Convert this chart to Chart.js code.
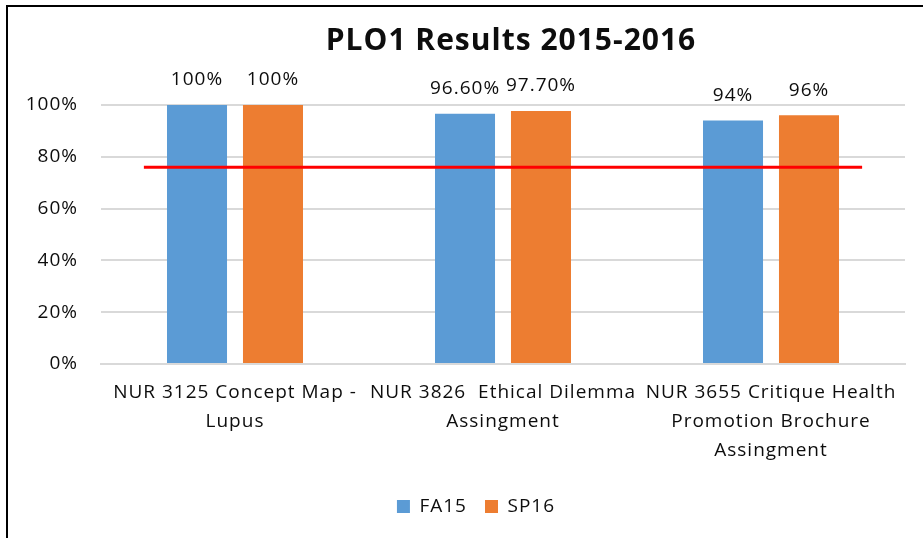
<!DOCTYPE html>
<html>
<head>
<meta charset="utf-8">
<script src="https://cdn.jsdelivr.net/npm/chart.js@4/dist/chart.umd.min.js"></script>
<style>
  html, body { margin: 0; padding: 0; background: #fff; width: 923px; height: 538px; overflow: hidden; }
  #frame { position: absolute; left: 6px; top: 5px; width: 2000px; height: 2000px;
           border-left: 2px solid #000; border-top: 2px solid #000; }
  #wrap { position: absolute; left: 0; top: 0; width: 923px; height: 538px; }
</style>
</head>
<body>
<div id="frame"></div>
<div id="wrap"><canvas id="c" width="923" height="538"></canvas></div>
<script>
// ---- data ----
const chartTitle = "PLO1 Results 2015-2016";
const categories = [
  ["NUR 3125 Concept Map -", "Lupus"],
  ["NUR 3826  Ethical Dilemma", "Assingment"],
  ["NUR 3655 Critique Health", "Promotion Brochure", "Assingment"]
];
const seriesNames = ["FA15", "SP16"];
const fa15 = [100, 96.6, 94];
const sp16 = [100, 97.7, 96];
const fa15Labels = ["100%", "96.60%", "94%"];
const sp16Labels = ["100%", "97.70%", "96%"];
const targetValue = 76;
const targetOverhang = 0.34; // in category widths beyond first/last category centre
const yTicks = [0, 20, 40, 60, 80, 100];

const FONT = "'Open Sans', 'Liberation Sans', sans-serif";
const TEXT = "#0d0d0d";
const SPACING = '1px';

const spacingPlugin = {
  id: 'spacing',
  beforeInit(chart) { chart.ctx.letterSpacing = SPACING; },
  beforeUpdate(chart) { chart.ctx.letterSpacing = SPACING; },
  beforeLayout(chart) { chart.ctx.letterSpacing = SPACING; },
  afterLayout(chart) {
    if (chart.legend) { chart.legend.left += 14; chart.legend.right += 14; }
  },
  beforeDraw(chart) { chart.ctx.letterSpacing = SPACING; }
};

const titlePlugin = {
  id: 'customTitle',
  afterDraw(chart) {
    const ctx = chart.ctx;
    ctx.save();
    ctx.font = "bold 30px " + FONT;
    ctx.fillStyle = TEXT;
    ctx.textAlign = "center";
    ctx.textBaseline = "middle";
    ctx.fillText(chartTitle, 511, 41);
    ctx.restore();
  }
};

const targetPlugin = {
  id: 'targetLine',
  afterDatasetsDraw(chart) {
    const x = chart.scales.x, y = chart.scales.y;
    const n = categories.length;
    const w = (x.getPixelForValue(n - 1) - x.getPixelForValue(0)) / (n - 1);
    const x0 = x.getPixelForValue(0) - targetOverhang * w;
    const x1 = x.getPixelForValue(n - 1) + targetOverhang * w;
    const py = y.getPixelForValue(targetValue);
    const ctx = chart.ctx;
    ctx.save();
    ctx.strokeStyle = '#ff0000';
    ctx.lineWidth = 3;
    ctx.beginPath();
    ctx.moveTo(x0, py);
    ctx.lineTo(x1, py);
    ctx.stroke();
    ctx.restore();
  }
};

const labelPlugin = {
  id: 'barLabels',
  afterDatasetsDraw(chart) {
    const ctx = chart.ctx;
    const labelSets = [fa15Labels, sp16Labels];
    ctx.save();
    ctx.font = "19px " + FONT;
    ctx.fillStyle = TEXT;
    ctx.textAlign = "center";
    ctx.textBaseline = "middle";
    [0, 1].forEach(di => {
      const meta = chart.getDatasetMeta(di);
      meta.data.forEach((bar, i) => {
        ctx.fillText(labelSets[di][i], bar.x, bar.y - 25);
      });
    });
    ctx.restore();
  }
};

new Chart(document.getElementById('c'), {
  type: 'bar',
  data: {
    labels: categories,
    datasets: [
      { label: seriesNames[0], data: fa15, backgroundColor: '#5b9bd5' },
      { label: seriesNames[1], data: sp16, backgroundColor: '#ed7d31' }
    ]
  },
  options: {
    responsive: false,
    animation: false,
    datasets: { bar: { categoryPercentage: 0.567, barPercentage: 0.79 } },
    layout: { padding: { left: 19, right: 18, top: 105, bottom: 12 } },
    plugins: {
      title: { display: false },
      tooltip: { enabled: false },
      legend: {
        position: 'bottom',
        labels: {
          boxWidth: 13, boxHeight: 13, padding: 18,
          color: TEXT, font: { family: FONT, size: 19 }
        }
      }
    },
    scales: {
      x: {
        type: 'category',
        offset: true,
        grid: { display: false, drawTicks: false },
        border: { display: true, color: '#d9d9d9', width: 2 },
        ticks: { color: TEXT, font: { family: FONT, size: 19, lineHeight: 1.53 },
                 maxRotation: 0, autoSkip: false, padding: 14 },
        afterFit(scale) { scale.height = 115; }
      },
      y: {
        min: 0, max: 100,
        afterBuildTicks(scale) { scale.ticks = yTicks.map(v => ({ value: v })); },
        grid: { color: '#d9d9d9', lineWidth: 2, drawTicks: false },
        border: { display: false },
        ticks: { color: TEXT, font: { family: FONT, size: 19 }, padding: 23,
                 callback: v => v + '%' },
        afterFit(scale) { scale.width = 82; }
      }
    }
  },
  plugins: [spacingPlugin, targetPlugin, labelPlugin, titlePlugin]
});
</script>
</body>
</html>
